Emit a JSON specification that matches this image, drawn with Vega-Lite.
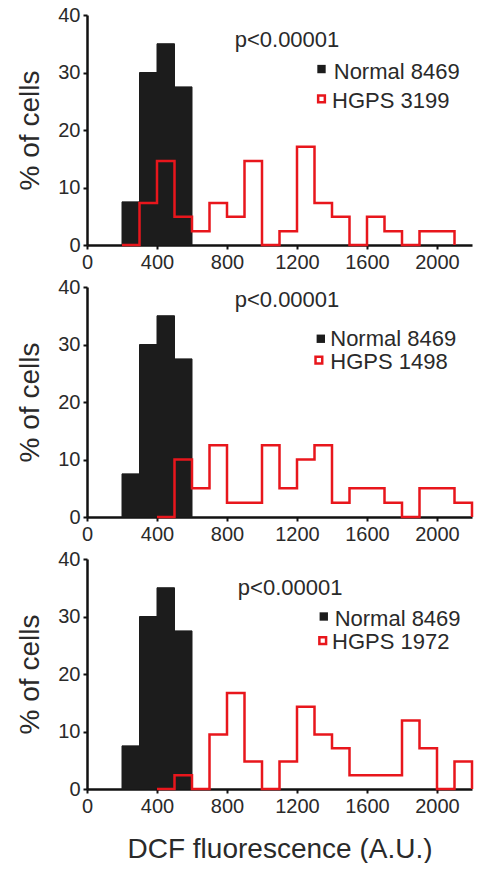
{
  "$schema": "https://vega.github.io/schema/vega-lite/v6.json",
  "padding": {"left": 16, "top": 5, "right": 5, "bottom": 0},
  "spacing": 5,
  "background": "white",
  "config": {
    "view": {"stroke": null},
    "font": "Liberation Sans",
    "axis": {
      "grid": false,
      "domainColor": "#111111",
      "domainWidth": 2.5,
      "tickColor": "#111111",
      "tickWidth": 2,
      "tickSize": 4,
      "labelFont": "Liberation Sans",
      "labelFontSize": 20,
      "labelColor": "#2a2a2a",
      "labelPadding": 3,
      "labelFlush": false,
      "labelOverlap": false,
      "titleFont": "Liberation Sans",
      "titleFontSize": 28,
      "titleFontWeight": "normal",
      "titleColor": "#2a2a2a",
      "zindex": 1
    }
  },
  "datasets": {
    "bars": [
      {"panel": 1, "x0": 200, "x1": 300, "pct": 7.5},
      {"panel": 1, "x0": 300, "x1": 400, "pct": 30},
      {"panel": 1, "x0": 400, "x1": 500, "pct": 35},
      {"panel": 1, "x0": 500, "x1": 600, "pct": 27.5},
      {"panel": 2, "x0": 200, "x1": 300, "pct": 7.5},
      {"panel": 2, "x0": 300, "x1": 400, "pct": 30},
      {"panel": 2, "x0": 400, "x1": 500, "pct": 35},
      {"panel": 2, "x0": 500, "x1": 600, "pct": 27.5},
      {"panel": 3, "x0": 200, "x1": 300, "pct": 7.5},
      {"panel": 3, "x0": 300, "x1": 400, "pct": 30},
      {"panel": 3, "x0": 400, "x1": 500, "pct": 35},
      {"panel": 3, "x0": 500, "x1": 600, "pct": 27.5}
    ],
    "red": [
      {"panel": 1, "x": 200, "pct": 0},
      {"panel": 1, "x": 300, "pct": 7.3},
      {"panel": 1, "x": 400, "pct": 14.6},
      {"panel": 1, "x": 500, "pct": 4.9},
      {"panel": 1, "x": 600, "pct": 2.4},
      {"panel": 1, "x": 700, "pct": 7.3},
      {"panel": 1, "x": 800, "pct": 4.9},
      {"panel": 1, "x": 900, "pct": 14.6},
      {"panel": 1, "x": 1000, "pct": 0},
      {"panel": 1, "x": 1100, "pct": 2.4},
      {"panel": 1, "x": 1200, "pct": 17.1},
      {"panel": 1, "x": 1300, "pct": 7.3},
      {"panel": 1, "x": 1400, "pct": 4.9},
      {"panel": 1, "x": 1500, "pct": 0},
      {"panel": 1, "x": 1600, "pct": 4.9},
      {"panel": 1, "x": 1700, "pct": 2.4},
      {"panel": 1, "x": 1800, "pct": 0},
      {"panel": 1, "x": 1900, "pct": 2.4},
      {"panel": 1, "x": 2000, "pct": 2.4},
      {"panel": 1, "x": 2100, "pct": 0},
      {"panel": 2, "x": 400, "pct": 0},
      {"panel": 2, "x": 500, "pct": 10},
      {"panel": 2, "x": 600, "pct": 5},
      {"panel": 2, "x": 700, "pct": 12.5},
      {"panel": 2, "x": 800, "pct": 2.5},
      {"panel": 2, "x": 900, "pct": 2.5},
      {"panel": 2, "x": 1000, "pct": 12.5},
      {"panel": 2, "x": 1100, "pct": 5},
      {"panel": 2, "x": 1200, "pct": 10},
      {"panel": 2, "x": 1300, "pct": 12.5},
      {"panel": 2, "x": 1400, "pct": 2.5},
      {"panel": 2, "x": 1500, "pct": 5},
      {"panel": 2, "x": 1600, "pct": 5},
      {"panel": 2, "x": 1700, "pct": 2.5},
      {"panel": 2, "x": 1800, "pct": 0},
      {"panel": 2, "x": 1900, "pct": 5},
      {"panel": 2, "x": 2000, "pct": 5},
      {"panel": 2, "x": 2100, "pct": 2.5},
      {"panel": 2, "x": 2200, "pct": 0},
      {"panel": 3, "x": 400, "pct": 0},
      {"panel": 3, "x": 500, "pct": 2.4},
      {"panel": 3, "x": 600, "pct": 0},
      {"panel": 3, "x": 700, "pct": 9.5},
      {"panel": 3, "x": 800, "pct": 16.7},
      {"panel": 3, "x": 900, "pct": 4.8},
      {"panel": 3, "x": 1000, "pct": 0},
      {"panel": 3, "x": 1100, "pct": 4.8},
      {"panel": 3, "x": 1200, "pct": 14.3},
      {"panel": 3, "x": 1300, "pct": 9.5},
      {"panel": 3, "x": 1400, "pct": 7.1},
      {"panel": 3, "x": 1500, "pct": 2.4},
      {"panel": 3, "x": 1600, "pct": 2.4},
      {"panel": 3, "x": 1700, "pct": 2.4},
      {"panel": 3, "x": 1800, "pct": 11.9},
      {"panel": 3, "x": 1900, "pct": 7.1},
      {"panel": 3, "x": 2000, "pct": 0},
      {"panel": 3, "x": 2100, "pct": 4.8},
      {"panel": 3, "x": 2200, "pct": 0}
    ],
    "notes": [
      {"panel": 1, "x": 844, "y": 35.7, "text": "p<0.00001"},
      {"panel": 1, "x": 1410, "y": 30.1, "text": "Normal 8469"},
      {"panel": 1, "x": 1400, "y": 25.0, "text": "HGPS 3199"},
      {"panel": 2, "x": 844, "y": 37.8, "text": "p<0.00001"},
      {"panel": 2, "x": 1390, "y": 31.0, "text": "Normal 8469"},
      {"panel": 2, "x": 1390, "y": 27.0, "text": "HGPS 1498"},
      {"panel": 3, "x": 862, "y": 34.9, "text": "p<0.00001"},
      {"panel": 3, "x": 1415, "y": 29.6, "text": "Normal 8469"},
      {"panel": 3, "x": 1400, "y": 25.65, "text": "HGPS 1972"}
    ],
    "keys": [
      {"panel": 1, "group": "Normal", "x": 1340, "y": 30.6},
      {"panel": 1, "group": "HGPS", "x": 1340, "y": 25.4},
      {"panel": 2, "group": "Normal", "x": 1336, "y": 31.0},
      {"panel": 2, "group": "HGPS", "x": 1325, "y": 27.3},
      {"panel": 3, "group": "Normal", "x": 1353, "y": 30.0},
      {"panel": 3, "group": "HGPS", "x": 1347, "y": 25.8}
    ]
  },
  "vconcat": [
    {
      "width": 385, "height": 230,
      "layer": [
        {
          "data": {"name": "bars"},
          "transform": [{"filter": "datum.panel === 1"}],
          "mark": {"type": "rect", "color": "#1c1c1c", "stroke": "#1c1c1c", "strokeWidth": 1},
          "encoding": {
            "x": {"field": "x0", "type": "quantitative", "scale": {"domain": [0, 2200], "nice": false},
              "axis": {"title": null, "values": [0,100,200,300,400,500,600,700,800,900,1000,1100,1200,1300,1400,1500,1600,1700,1800,1900,2000,2100,2200], "labelExpr": "datum.value % 400 === 0 ? datum.label : ''", "format": "d"}},
            "x2": {"field": "x1"},
            "y": {"field": "pct", "type": "quantitative", "scale": {"domain": [0, 40], "nice": false},
              "axis": {"title": "% of cells", "titlePadding": 13, "values": [0,5,10,15,20,25,30,35,40], "labelExpr": "datum.value % 10 === 0 ? datum.label : ''"}},
            "y2": {"datum": 0}
          }
        },
        {
          "data": {"name": "red"},
          "transform": [{"filter": "datum.panel === 1"}],
          "mark": {"type": "line", "interpolate": "step-after", "color": "#e8161c", "strokeWidth": 2.5},
          "encoding": {"x": {"field": "x", "type": "quantitative"}, "y": {"field": "pct", "type": "quantitative"}}
        },
        {
          "data": {"name": "notes"},
          "transform": [{"filter": "datum.panel === 1"}],
          "mark": {"type": "text", "align": "left", "baseline": "middle", "font": "Liberation Sans", "fontSize": 22, "color": "#2a2a2a"},
          "encoding": {"x": {"field": "x", "type": "quantitative"}, "y": {"field": "y", "type": "quantitative"}, "text": {"field": "text"}}
        },
        {
          "data": {"name": "keys"},
          "transform": [{"filter": "datum.panel === 1 && datum.group === 'Normal'"}],
          "mark": {"type": "point", "shape": "square", "filled": true, "size": 70, "color": "#1c1c1c", "opacity": 1},
          "encoding": {"x": {"field": "x", "type": "quantitative"}, "y": {"field": "y", "type": "quantitative"}}
        },
        {
          "data": {"name": "keys"},
          "transform": [{"filter": "datum.panel === 1 && datum.group === 'HGPS'"}],
          "mark": {"type": "point", "shape": "square", "filled": false, "size": 45, "stroke": "#e8161c", "strokeWidth": 2.5, "opacity": 1},
          "encoding": {"x": {"field": "x", "type": "quantitative"}, "y": {"field": "y", "type": "quantitative"}}
        }
      ]
    },
    {
      "width": 385, "height": 230,
      "layer": [
        {
          "data": {"name": "bars"},
          "transform": [{"filter": "datum.panel === 2"}],
          "mark": {"type": "rect", "color": "#1c1c1c", "stroke": "#1c1c1c", "strokeWidth": 1},
          "encoding": {
            "x": {"field": "x0", "type": "quantitative", "scale": {"domain": [0, 2200], "nice": false},
              "axis": {"title": null, "values": [0,100,200,300,400,500,600,700,800,900,1000,1100,1200,1300,1400,1500,1600,1700,1800,1900,2000,2100,2200], "labelExpr": "datum.value % 400 === 0 ? datum.label : ''", "format": "d"}},
            "x2": {"field": "x1"},
            "y": {"field": "pct", "type": "quantitative", "scale": {"domain": [0, 40], "nice": false},
              "axis": {"title": "% of cells", "titlePadding": 13, "values": [0,5,10,15,20,25,30,35,40], "labelExpr": "datum.value % 10 === 0 ? datum.label : ''"}},
            "y2": {"datum": 0}
          }
        },
        {
          "data": {"name": "red"},
          "transform": [{"filter": "datum.panel === 2"}],
          "mark": {"type": "line", "interpolate": "step-after", "color": "#e8161c", "strokeWidth": 2.5},
          "encoding": {"x": {"field": "x", "type": "quantitative"}, "y": {"field": "pct", "type": "quantitative"}}
        },
        {
          "data": {"name": "notes"},
          "transform": [{"filter": "datum.panel === 2"}],
          "mark": {"type": "text", "align": "left", "baseline": "middle", "font": "Liberation Sans", "fontSize": 22, "color": "#2a2a2a"},
          "encoding": {"x": {"field": "x", "type": "quantitative"}, "y": {"field": "y", "type": "quantitative"}, "text": {"field": "text"}}
        },
        {
          "data": {"name": "keys"},
          "transform": [{"filter": "datum.panel === 2 && datum.group === 'Normal'"}],
          "mark": {"type": "point", "shape": "square", "filled": true, "size": 70, "color": "#1c1c1c", "opacity": 1},
          "encoding": {"x": {"field": "x", "type": "quantitative"}, "y": {"field": "y", "type": "quantitative"}}
        },
        {
          "data": {"name": "keys"},
          "transform": [{"filter": "datum.panel === 2 && datum.group === 'HGPS'"}],
          "mark": {"type": "point", "shape": "square", "filled": false, "size": 45, "stroke": "#e8161c", "strokeWidth": 2.5, "opacity": 1},
          "encoding": {"x": {"field": "x", "type": "quantitative"}, "y": {"field": "y", "type": "quantitative"}}
        }
      ]
    },
    {
      "width": 385, "height": 230,
      "layer": [
        {
          "data": {"name": "bars"},
          "transform": [{"filter": "datum.panel === 3"}],
          "mark": {"type": "rect", "color": "#1c1c1c", "stroke": "#1c1c1c", "strokeWidth": 1},
          "encoding": {
            "x": {"field": "x0", "type": "quantitative", "scale": {"domain": [0, 2200], "nice": false},
              "axis": {"title": "DCF fluorescence (A.U.)", "titlePadding": 19, "values": [0,100,200,300,400,500,600,700,800,900,1000,1100,1200,1300,1400,1500,1600,1700,1800,1900,2000,2100,2200], "labelExpr": "datum.value % 400 === 0 ? datum.label : ''", "format": "d"}},
            "x2": {"field": "x1"},
            "y": {"field": "pct", "type": "quantitative", "scale": {"domain": [0, 40], "nice": false},
              "axis": {"title": "% of cells", "titlePadding": 13, "values": [0,5,10,15,20,25,30,35,40], "labelExpr": "datum.value % 10 === 0 ? datum.label : ''"}},
            "y2": {"datum": 0}
          }
        },
        {
          "data": {"name": "red"},
          "transform": [{"filter": "datum.panel === 3"}],
          "mark": {"type": "line", "interpolate": "step-after", "color": "#e8161c", "strokeWidth": 2.5},
          "encoding": {"x": {"field": "x", "type": "quantitative"}, "y": {"field": "pct", "type": "quantitative"}}
        },
        {
          "data": {"name": "notes"},
          "transform": [{"filter": "datum.panel === 3"}],
          "mark": {"type": "text", "align": "left", "baseline": "middle", "font": "Liberation Sans", "fontSize": 22, "color": "#2a2a2a"},
          "encoding": {"x": {"field": "x", "type": "quantitative"}, "y": {"field": "y", "type": "quantitative"}, "text": {"field": "text"}}
        },
        {
          "data": {"name": "keys"},
          "transform": [{"filter": "datum.panel === 3 && datum.group === 'Normal'"}],
          "mark": {"type": "point", "shape": "square", "filled": true, "size": 70, "color": "#1c1c1c", "opacity": 1},
          "encoding": {"x": {"field": "x", "type": "quantitative"}, "y": {"field": "y", "type": "quantitative"}}
        },
        {
          "data": {"name": "keys"},
          "transform": [{"filter": "datum.panel === 3 && datum.group === 'HGPS'"}],
          "mark": {"type": "point", "shape": "square", "filled": false, "size": 45, "stroke": "#e8161c", "strokeWidth": 2.5, "opacity": 1},
          "encoding": {"x": {"field": "x", "type": "quantitative"}, "y": {"field": "y", "type": "quantitative"}}
        }
      ]
    }
  ]
}
